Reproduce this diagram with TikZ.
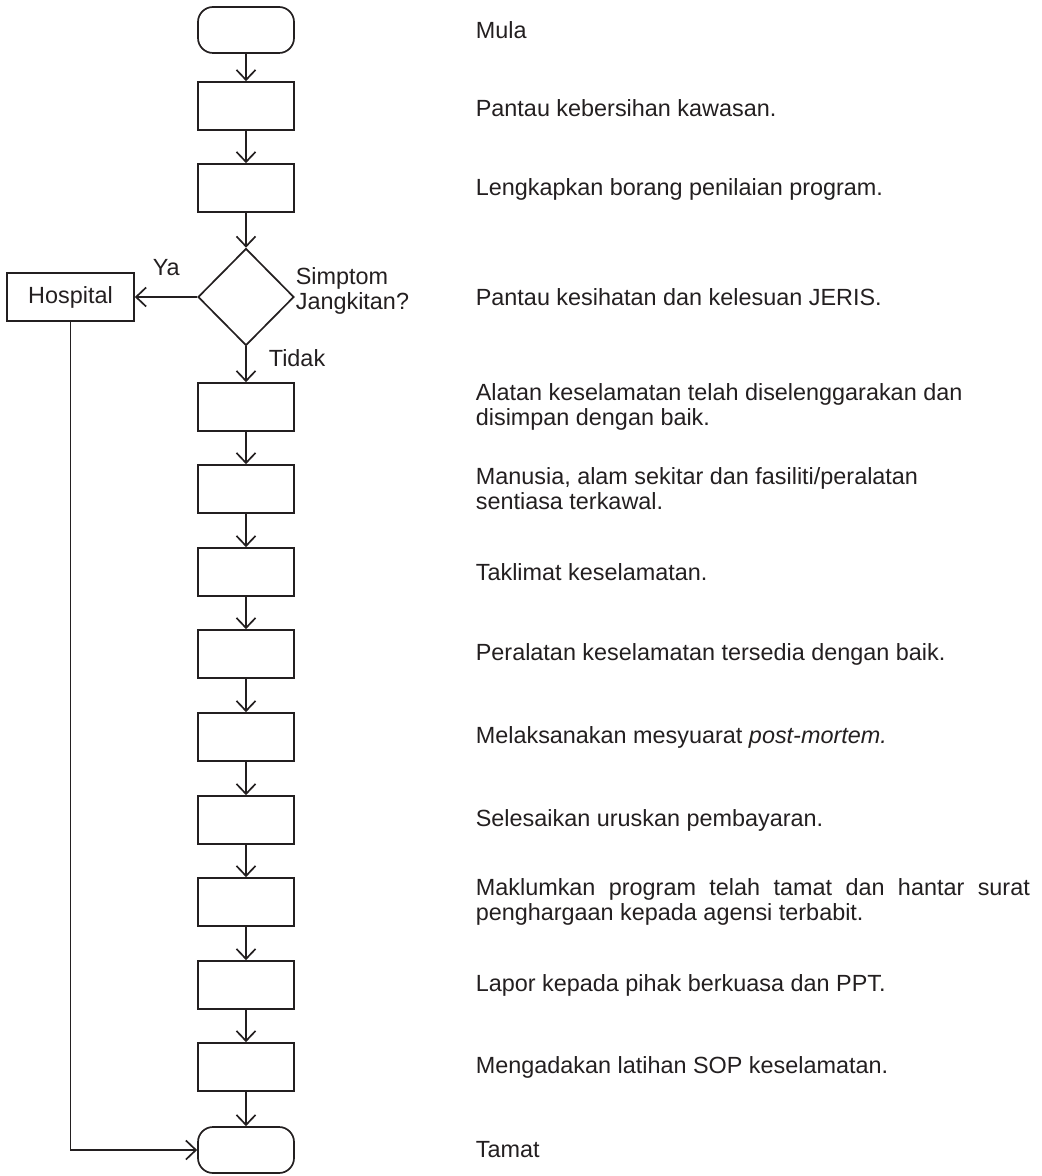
\documentclass[tikz,border=0pt]{standalone}
\usepackage{fontspec}
\setmainfont{Liberation Sans}
\usepackage{tikz}
\usetikzlibrary{shapes.geometric}
\usetikzlibrary{arrows.meta, positioning}
\definecolor{inkGray}{RGB}{35, 31, 32}
\colorlet{flowColor}{inkGray}
\tikzset{
    terminal/.style={draw=flowColor, rounded corners=7.5pt, minimum width=48pt, minimum height=23pt, inner sep=0pt},
    process/.style={draw=flowColor, minimum width=48pt, minimum height=24pt, inner sep=0pt},
    wideprocess/.style={process, minimum width=63.5pt, text=flowColor},
    decision/.style={draw=flowColor, diamond, minimum width=48pt, minimum height=48.5pt, inner sep=0pt},
    note/.style={anchor=west, inner sep=0pt, align=left, text=flowColor},
    flow/.style={draw=flowColor, -{Straight Barb[length=5pt, width=9.5pt, line width=0.85pt]}}
}
\def\notecol{475}

\begin{document}
\begin{tikzpicture}[x=0.5pt, y=-0.5pt, line width=0.85pt,
                    font=\fontsize{11.7}{12.6}\selectfont]
                    \useasboundingbox (0,0) rectangle (1042,1176);

                    % Flow column
                    \node[terminal] (mula) at (246,30) {};
                    \node[process] (kebersihan) at (246,106) {};
                    \node[process] (borang) at (246,188) {};
                    \node[decision] (simptom) at (246,297) {};
                    \node[wideprocess] (hospital) at (70.5,297) {Hospital};
                    \node[process] (alatan) at (246,407) {};
                    \node[process] (manusia) at (246,489) {};
                    \node[process] (taklimat) at (246,572) {};
                    \node[process] (peralatan) at (246,654) {};
                    \node[process] (mesyuarat) at (246,737) {};
                    \node[process] (bayaran) at (246,820) {};
                    \node[process] (maklum) at (246,902) {};
                    \node[process] (lapor) at (246,985) {};
                    \node[process] (latihan) at (246,1067) {};
                    \node[terminal] (tamat) at (246,1150) {};

                    % Connectors
                    \draw[flow] (mula) -- (kebersihan);
                    \draw[flow] (kebersihan) -- (borang);
                    \draw[flow] (borang) -- (simptom);
                    \draw[flow] (simptom) -- (alatan);
                    \draw[flow] (alatan) -- (manusia);
                    \draw[flow] (manusia) -- (taklimat);
                    \draw[flow] (taklimat) -- (peralatan);
                    \draw[flow] (peralatan) -- (mesyuarat);
                    \draw[flow] (mesyuarat) -- (bayaran);
                    \draw[flow] (bayaran) -- (maklum);
                    \draw[flow] (maklum) -- (lapor);
                    \draw[flow] (lapor) -- (latihan);
                    \draw[flow] (latihan) -- (tamat);
                    \draw[flow] (simptom) -- (hospital);
                    \draw[flow] (hospital.south) |- (tamat.west);

                    % Decision labels
                    \node[note] (ya) at (152,268) {Ya};
                    \node[note] (soalan) at (295,291) {Simptom\\Jangkitan?};
                    \node[note] (tidak) at (268,358) {Tidak};

                    % Notes column
                    \node[note] (tMula) at (\notecol,30) {Mula};
                    \node[note] (tKebersihan) at (\notecol,108) {Pantau kebersihan kawasan.};
                    \node[note] (tBorang) at (\notecol,189) {Lengkapkan borang penilaian program.};
                    \node[note] (tSimptom) at (\notecol,297) {Pantau kesihatan dan kelesuan JERIS.};
                    \node[note] (tAlatan) at (\notecol,407) {Alatan keselamatan telah diselenggarakan dan\\disimpan dengan baik.};
                    \node[note] (tManusia) at (\notecol,489) {Manusia, alam sekitar dan fasiliti/peralatan\\sentiasa terkawal.};
                    \node[note] (tTaklimat) at (\notecol,572) {Taklimat keselamatan.};
                    \node[note] (tPeralatan) at (\notecol,654) {Peralatan keselamatan tersedia dengan baik.};
                    \node[note] (tMesyuarat) at (\notecol,737) {Melaksanakan mesyuarat \textit{post-mortem.}};
                    \node[note] (tBayaran) at (\notecol,820) {Selesaikan uruskan pembayaran.};
                    \node[note] (tMaklum) at (\notecol,902) {\makebox[277pt][s]{Maklumkan program telah tamat dan hantar surat}\\penghargaan kepada agensi terbabit.};
                    \node[note] (tLapor) at (\notecol,985) {Lapor kepada pihak berkuasa dan PPT.};
                    \node[note] (tLatihan) at (\notecol,1067) {Mengadakan latihan SOP keselamatan.};
                    \node[note] (tTamat) at (\notecol,1150) {Tamat};
                \end{tikzpicture}
\end{document}
